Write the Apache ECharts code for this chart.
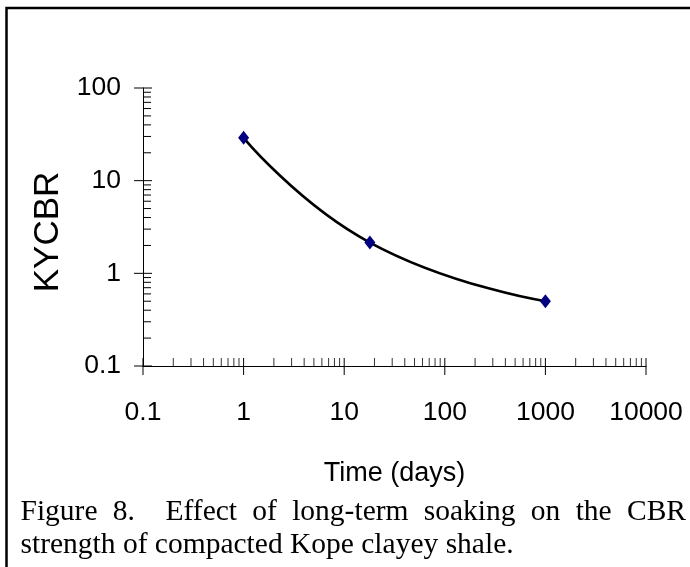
<!DOCTYPE html>
<html>
<head>
<meta charset="utf-8">
<script src="https://cdn.jsdelivr.net/npm/echarts@6/dist/echarts.min.js"></script>
<style>
html,body{margin:0;padding:0;background:#fff;}
#chart{width:690px;height:567px;}
</style>
</head>
<body>
<div id="chart"></div>
<script>
// ---- data ----
const timeDays = [1, 18, 1000];
const kycbr = [29, 2.15, 0.5];
const xMajorTicks = [0.1, 1, 10, 100, 1000, 10000];
const yMajorTicks = [0.1, 1, 10, 100];
const xTickLabels = ['0.1', '1', '10', '100', '1000', '10000'];
const yTickLabels = ['0.1', '1', '10', '100'];
const xAxisTitle = 'Time (days)';
const yAxisTitle = 'KYCBR';
const captionLine1 = ['Figure', '8.', '', 'Effect', 'of', 'long-term', 'soaking', 'on', 'the', 'CBR'];
const captionLine2 = 'strength of compacted Kope clayey shale.';

const sansFont = "'Liberation Sans', Arial, sans-serif";
const serifFont = "'Liberation Serif', 'Times New Roman', serif";

// tick marks (major & minor log ticks) placed through the axes
function minorOf(majors) {
  const out = [];
  for (let i = 0; i < majors.length - 1; i++) {
    for (let k = 2; k <= 9; k++) out.push(Number((majors[i] * k).toPrecision(6)));
  }
  return out;
}
const tickData = [];
xMajorTicks.forEach(v => tickData.push([v, 0.1, 0]));
minorOf(xMajorTicks).forEach(v => tickData.push([v, 0.1, 1]));
yMajorTicks.forEach(v => tickData.push([0.1, v, 2]));
minorOf(yMajorTicks).forEach(v => tickData.push([0.1, v, 3]));

function labelFor(values, labels) {
  return function (v) {
    for (let i = 0; i < values.length; i++) {
      if (Math.abs(Math.log10(v) - Math.log10(values[i])) < 1e-6) return labels[i];
    }
    return '';
  };
}

// caption layout (justified first line)
const cv = document.createElement('canvas').getContext('2d');
const capSize = 29.5;
const capFont = capSize + "px " + serifFont;
cv.font = capFont;
const capLeft = 20.5, capRight = 686;
const words = captionLine1.filter(w => w !== '');
const wordW = words.map(w => cv.measureText(w).width);
const nSpaces = captionLine1.length - 1;
const spaceW = (capRight - capLeft - wordW.reduce((a, b) => a + b, 0)) / nSpaces;
const capGraphics = [];
let cx = capLeft, wi = 0;
captionLine1.forEach((w) => {
  if (w === '') { cx += spaceW; return; }
  capGraphics.push({
    type: 'text', x: cx, y: 512, silent: true,
    style: { text: w, font: capFont, fill: '#000', verticalAlign: 'middle', align: 'left' }
  });
  cx += wordW[wi++] + spaceW;
});
capGraphics.push({
  type: 'text', x: capLeft, y: 545, silent: true,
  style: { text: captionLine2, font: capFont, fill: '#000', verticalAlign: 'middle', align: 'left' }
});

const chart = echarts.init(document.getElementById('chart'), null, { renderer: 'canvas' });

const option = {
  animation: false,
  backgroundColor: '#fff',
  grid: { left: 143, right: 44, top: 88, bottom: 201, containLabel: false },
  xAxis: {
    type: 'log', logBase: 10, min: 0.1, max: 10000,
    name: xAxisTitle, nameLocation: 'middle', nameGap: 94,
    nameTextStyle: { fontFamily: sansFont, fontSize: 27, color: '#000' },
    axisLine: { show: true, onZero: false, lineStyle: { color: '#000', width: 1 } },
    axisTick: { show: false },
    minorTick: { show: false },
    splitLine: { show: false },
    axisLabel: {
      margin: 33, fontFamily: sansFont, fontSize: 26.5, color: '#000',
      formatter: labelFor(xMajorTicks, xTickLabels)
    }
  },
  yAxis: {
    type: 'log', logBase: 10, min: 0.1, max: 100,
    name: yAxisTitle, nameLocation: 'middle', nameGap: 65, nameRotate: 90,
    nameTextStyle: { fontFamily: sansFont, fontSize: 35, color: '#000', padding: [0, 10, 0, 0] },
    axisLine: { show: true, onZero: false, lineStyle: { color: '#000', width: 1 } },
    axisTick: { show: false },
    minorTick: { show: false },
    splitLine: { show: false },
    axisLabel: {
      margin: 22, fontFamily: sansFont, fontSize: 26.5, color: '#000',
      formatter: labelFor(yMajorTicks, yTickLabels)
    }
  },
  graphic: [
    {
      type: 'rect', silent: true, z: 100,
      shape: { x: 6.5, y: 8, width: 2000, height: 2000 },
      style: { fill: 'none', stroke: '#000', lineWidth: 2.5 }
    }
  ].concat(capGraphics),
  series: [
    {
      type: 'custom', name: 'ticks', silent: true, clip: false, z: 1,
      data: tickData,
      renderItem: function (params, api) {
        const kind = api.value(2);
        const p = api.coord([api.value(0), api.value(1)]);
        let x1, y1, x2, y2;
        if (kind === 0) { x1 = x2 = p[0]; y1 = p[1] - 8; y2 = p[1] + 9; }
        else if (kind === 1) { x1 = x2 = p[0]; y1 = p[1] - 8; y2 = p[1]; }
        else if (kind === 2) { y1 = y2 = p[1]; x1 = p[0] - 9; x2 = p[0] + 9; }
        else { y1 = y2 = p[1]; x1 = p[0]; x2 = p[0] + 8; }
        return {
          type: 'line',
          shape: { x1: x1, y1: y1, x2: x2, y2: y2 },
          style: { stroke: kind === 1 ? '#333' : '#000', lineWidth: 1 }
        };
      }
    },
    {
      type: 'line', name: 'KYCBR',
      data: timeDays.map((t, i) => [t, kycbr[i]]),
      smooth: 0.5,
      symbol: 'diamond', symbolSize: [11, 14],
      itemStyle: { color: '#000080' },
      lineStyle: { color: '#000', width: 2.6 },
      z: 3
    }
  ]
};
chart.setOption(option);
</script>
</body>
</html>
